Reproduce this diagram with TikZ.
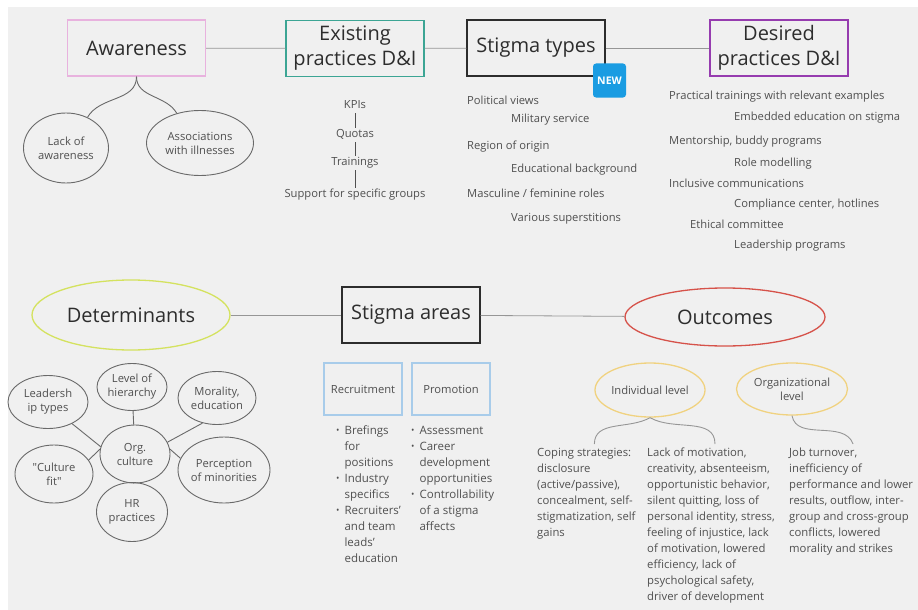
\documentclass[tikz,border=0pt]{standalone}
\usepackage{fontspec}
\setmainfont{Open Sans}
\usetikzlibrary{shapes.geometric,positioning,calc}
\definecolor{bggray}{RGB}{240,240,240}
\definecolor{awpink}{RGB}{232,178,222}
\definecolor{exteal}{RGB}{60,165,148}
\definecolor{depurple}{RGB}{150,60,175}
\definecolor{detgreen}{RGB}{212,226,95}
\definecolor{outred}{RGB}{214,82,74}
\definecolor{lvlyellow}{RGB}{240,210,128}
\definecolor{areablue}{RGB}{168,204,234}
\definecolor{newblue}{RGB}{26,156,226}
\definecolor{txtgray}{RGB}{80,80,80}
\definecolor{titlegray}{RGB}{45,45,45}
\definecolor{linkgray}{RGB}{150,150,150}
\definecolor{ovalgray}{RGB}{105,105,105}

\tikzset{
  titlebox/.style={draw, line width=1.3pt, minimum width=138pt, minimum height=56pt, align=center, text=titlegray, font=\fontsize{20}{25}\selectfont, inner sep=2pt},
  titleoval/.style={ellipse, draw, line width=1.3pt, text=titlegray, font=\fontsize{20}{25}\selectfont, inner sep=0pt},
  oval/.style={ellipse, draw=ovalgray, line width=0.9pt, align=center, text=txtgray, font=\fontsize{11.2}{14}\selectfont, inner xsep=-6pt, inner ysep=0pt},
  lvloval/.style={oval, draw=lvlyellow, line width=1.3pt},
  areabox/.style={draw=areablue, line width=1.2pt, minimum width=78pt, minimum height=52pt, text=txtgray, font=\fontsize{11.2}{14}\selectfont},
  listtext/.style={inner sep=0pt, text height=8pt, text depth=2.5pt, text=txtgray, font=\fontsize{11.2}{14}\selectfont},
  outtext/.style={anchor=north west, inner sep=0pt, align=left, text=txtgray, font=\fontsize{11.3}{16}\selectfont},
  bullets/.style={anchor=north west, inner sep=0pt, text=txtgray, font=\fontsize{11.5}{16}\selectfont},
  badge/.style={fill=newblue, rounded corners=3pt, minimum width=33pt, minimum height=34pt, inner sep=0pt, text=white, font=\fontsize{10.5}{10.5}\selectfont\bfseries},
  link/.style={draw=linkgray, line width=0.8pt},
  branch/.style={draw=ovalgray, line width=0.9pt},
  bar/.style={draw=txtgray, line width=0.8pt, shorten <=2pt, shorten >=2pt}
}
\newcommand{\bul}{\raisebox{0.8pt}{\fontsize{9}{9}\selectfont\textbullet}}

\begin{document}
\begin{tikzpicture}[x=1pt, y=1pt]
    \useasboundingbox (0,0) rectangle (918,-610);
    \fill[white] (0,0) rectangle (918,-610);
    \fill[bggray] (8,-7) rectangle (918,-610);

    % top row
    \node[titlebox, draw=awpink] (aware) at (136.5,-48) {Awareness};
    \node[titlebox, draw=exteal] (exist) at (355,-48.5) {Existing\\practices D\&I};
    \node[titlebox, draw=titlegray] (types) at (536,-48) {Stigma types};
    \node[titlebox, draw=depurple] (desired) at (779,-48) {Desired\\practices D\&I};
    \node[badge] (new) at (609.5,-80.5) {NEW};

    \draw[link] (aware) -- (exist);
    \draw[link] (exist) -- (types);
    \draw[link] (types) -- (desired);

    \node[oval, minimum width=85pt, minimum height=70pt] (lackaw) at (66,-148) {Lack of\\awareness};
    \node[oval, minimum width=107pt, minimum height=65pt] (assoc) at (200,-143) {Associations\\with illnesses};
    \draw[branch] (aware.south) to[out=-90, in=60] (lackaw.55);
    \draw[branch] (aware.south) to[out=-90, in=120] (assoc.128);

    \node[listtext] (kpi) at (355,-106) {KPIs};
    \node[listtext] (quota) at (355,-135) {Quotas};
    \node[listtext] (train) at (355,-163) {Trainings};
    \node[listtext] (support) at (355,-195) {Support for specific groups};
    \draw[bar] (kpi) -- (quota);
    \draw[bar] (quota) -- (train);
    \draw[bar] (train) -- (support);

    \node[listtext, anchor=west] (polit) at (467,-102) {Political views};
    \node[listtext, anchor=west] (milit) at (511,-120) {Military service};
    \node[listtext, anchor=west] (region) at (467,-147) {Region of origin};
    \node[listtext, anchor=west] (educ) at (511,-170) {Educational background};
    \node[listtext, anchor=west] (roles) at (467,-195) {Masculine / feminine roles};
    \node[listtext, anchor=west] (super) at (511,-219) {Various superstitions};

    \node[listtext, anchor=west] (prac) at (669,-97) {Practical trainings with relevant examples};
    \node[listtext, anchor=west] (embed) at (734,-118) {Embedded education on stigma};
    \node[listtext, anchor=west] (mentor) at (669,-142) {Mentorship, buddy programs};
    \node[listtext, anchor=west] (rolemod) at (734,-164) {Role modelling};
    \node[listtext, anchor=west] (inclus) at (669,-185) {Inclusive communications};
    \node[listtext, anchor=west] (compl) at (734,-205) {Compliance center, hotlines};
    \node[listtext, anchor=west] (ethic) at (690,-226) {Ethical committee};
    \node[listtext, anchor=west] (leadprog) at (734,-246) {Leadership programs};

    % bottom row
    \node[titleoval, draw=detgreen, minimum width=198pt, minimum height=70pt] (det) at (131,-315) {Determinants};
    \node[titlebox, draw=titlegray] (areas) at (411,-315) {Stigma areas};
    \node[titleoval, draw=outred, minimum width=200pt, minimum height=58pt] (outc) at (725,-317) {Outcomes};
    \draw[link] (det) -- (areas);
    \draw[link] (areas) -- (outc);

    \node[oval, minimum width=80pt, minimum height=53pt] (lead) at (48,-402) {Leadersh\\ip types};
    \node[oval, minimum width=70pt, minimum height=47pt] (level) at (132,-387) {Level of\\hierarchy};
    \node[oval, minimum width=78pt, minimum height=53pt] (moral) at (217,-398) {Morality,\\education};
    \node[oval, minimum width=70pt, minimum height=58pt] (org) at (135,-454) {Org.\\culture};
    \node[oval, minimum width=78pt, minimum height=58pt] (fit) at (54,-474) {\textquotedbl Culture\\fit\textquotedbl};
    \node[oval, minimum width=92pt, minimum height=66pt] (perc) at (224,-470) {Perception\\of minorities};
    \node[oval, minimum width=71pt, minimum height=59pt] (hr) at (132,-512) {HR\\practices};
    \draw[branch] (org) -- (level);
    \draw[branch] (org) -- (hr);
    \draw[branch] (lead.-42) -- (org.168);
    \draw[branch] (fit.22) -- (org.172);
    \draw[branch] (org.20) -- (moral.-120);
    \draw[branch] (org.8) -- (perc.165);

    \node[areabox] (recr) at (363,-389) {Recruitment};
    \node[areabox] (prom) at (451,-389) {Promotion};
    \node[bullets] (recrlist) at (336,-423) {%
      \begin{tabular}{@{}l@{\hspace{5pt}}l@{}}
        \bul & Brefings\\
             & for\\
             & positions\\
        \bul & Industry\\
             & specifics\\
        \bul & Recruiters'\\
             & and team\\
             & leads'\\
             & education
      \end{tabular}};
    \node[bullets] (promlist) at (411,-423) {%
      \begin{tabular}{@{}l@{\hspace{5pt}}l@{}}
        \bul & Assessment\\
        \bul & Career\\
             & development\\
             & opportunities\\
        \bul & Controllability\\
             & of a stigma\\
             & affects
      \end{tabular}};

    \node[lvloval, minimum width=110pt, minimum height=54pt] (indiv) at (650,-390) {Individual level};
    \node[lvloval, minimum width=111pt, minimum height=52pt] (orglvl) at (792,-389) {Organizational\\level};

    \node[outtext] (cope) at (537,-448) {Coping strategies:\\disclosure\\(active/passive),\\concealment, self-\\stigmatization, self\\gains};
    \node[outtext] (lackmot) at (647,-448) {Lack of motivation,\\creativity, absenteeism,\\opportunistic behavior,\\silent quitting, loss of\\personal identity, stress,\\feeling of injustice, lack\\of motivation, lowered\\efficiency, lack of\\psychological safety,\\driver of development};
    \node[outtext] (job) at (789,-448) {Job turnover,\\inefficiency of\\performance and lower\\results, outflow, inter-\\group and cross-group\\conflicts, lowered\\morality and strikes};

    \draw[branch, draw=linkgray] (indiv.south) to[out=-150, in=90] ($(cope.north)+(8,4)$);
    \draw[branch, draw=linkgray] (indiv.south) to[out=-30, in=90] ($(lackmot.north)+(4,4)$);
    \draw[branch, draw=linkgray] (orglvl.south) to[out=-80, in=110] ($(job.north)+(2,4)$);
\end{tikzpicture}
\end{document}
